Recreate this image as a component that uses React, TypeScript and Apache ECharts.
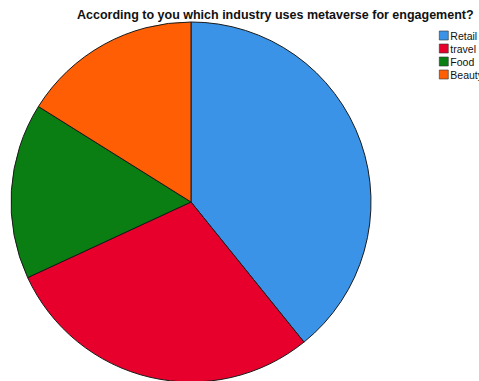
import React, { useEffect, useRef } from "react";
import * as echarts from "echarts";

const titleText = "According to you which industry uses metaverse for engagement?";
const categories = ["Retail", "travel", "Food", "Beauty"];
const values = [39.2, 28.9, 15.8, 16.1];
const colors = ["#3b93e8", "#e8002d", "#0a7e12", "#ff5e05"];

export default function App() {
  const ref = useRef<HTMLDivElement>(null);
  useEffect(() => {
    document.body.style.margin = "0";
    const chart = echarts.init(ref.current!, null, { renderer: "svg" });
    chart.setOption({
      animation: false,
      backgroundColor: "#ffffff",
      title: {
        text: titleText,
        left: 72,
        top: 3,
        textStyle: {
          fontFamily: "Liberation Sans, Arial, sans-serif",
          fontSize: 12.5,
          fontWeight: "bold",
          color: "#111",
        },
      },
      legend: {
        orient: "vertical",
        left: 434,
        top: 25,
        itemWidth: 9,
        itemHeight: 9,
        itemGap: 2,
        icon: "rect",
        data: categories,
        textStyle: {
          fontFamily: "Liberation Sans, Arial, sans-serif",
          fontSize: 10.5,
          color: "#111",
          padding: [0, 0, 0, -3],
        },
        itemStyle: { borderColor: "#333", borderWidth: 0.6 },
      },
      series: [
        {
          type: "pie",
          center: [191, 202],
          radius: 180,
          startAngle: 90,
          clockwise: true,
          label: { show: false },
          labelLine: { show: false },
          emphasis: { disabled: true },
          itemStyle: { borderColor: "#1a1a1a", borderWidth: 1 },
          data: categories.map((c, i) => ({
            name: c,
            value: values[i],
            itemStyle: { color: colors[i] },
          })),
        },
      ],
    });
    return () => chart.dispose();
  }, []);
  return <div ref={ref} style={{ width: 479, height: 381 }} />;
}
